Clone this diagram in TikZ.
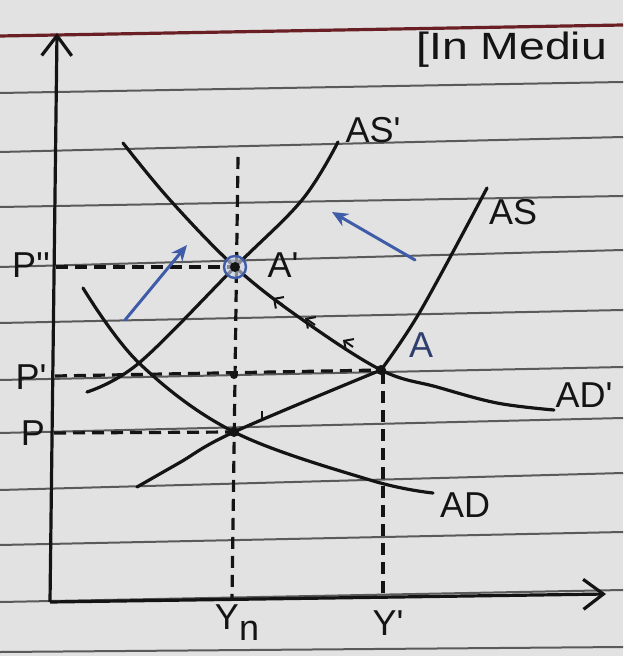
\documentclass[tikz,border=0pt]{standalone}
\usepackage{fontspec}
\setmainfont{Liberation Sans}
\usetikzlibrary{arrows.meta}
\definecolor{paper}{HTML}{E2E2E2}
\definecolor{rulegray}{HTML}{5A5A5A}
\definecolor{margin}{HTML}{6A1F25}
\definecolor{pen}{HTML}{141414}
\definecolor{bluepen}{HTML}{3F5CA8}
\begin{document}
\begin{tikzpicture}[x=0.5pt,y=-0.5pt,
  ruled/.style={rulegray,line width=1pt},
  curve/.style={pen,line width=1.6pt,line cap=round},
  guide/.style={pen,line width=1.6pt,dash pattern=on 6pt off 3.5pt},
  lbl/.style={pen,font=\fontsize{18}{21}\selectfont,inner sep=0pt},
  movearrow/.style={bluepen,line width=1.5pt,line cap=round,-{Stealth[length=8pt,width=7pt]}},
  axis/.style={pen,line width=1.6pt,-{Straight Barb[length=10pt,width=15pt,line width=1.6pt]}},
  tinyarrow/.style={pen,line width=1pt,-{Straight Barb[length=3.5pt,width=7pt,line width=1pt]}},
  dot/.style={circle,fill=pen,inner sep=0pt,minimum size=5pt},
]
\useasboundingbox (0,0) rectangle (623,656);
\clip (0,0) rectangle (623,656);
\fill[paper] (0,0) rectangle (623,656);
% ruled paper
\foreach \a/\b in {93/82,152/137,207/196,267/250,323/310,380/367,433/418,490/473,545/532,602/590,652/647}
  \draw[ruled] (0,\a) -- (623,\b);
\draw[margin,line width=1.6pt] (0,36) -- (623,25);
\node[lbl,anchor=west,font=\fontsize{19}{24}\selectfont] (note) at (416,50) {\scalebox{1.22}[1]{[In Mediu}};
% key points
\coordinate (O) at (50,602);
\coordinate (ytop) at (57,33);
\coordinate (xend) at (606,594);
\coordinate (P) at (234,432);
\coordinate (A) at (381,370);
\coordinate (Ap) at (235,267);
\coordinate (M) at (234,375);
% axes
\draw[axis] (O) -- (ytop);
\draw[axis] (O) -- (xend);
% guides
\draw[guide] (56,267) -- (Ap);
\draw[guide] (55,376) -- (A);
\draw[guide] (54,433) -- (P);
\draw[guide] (238,157) -- (232,600);
\draw[guide] (383,372) -- (383,598);
% curves
\draw[curve] plot[smooth,tension=0.6] coordinates {(83,288) (139,363) (234,432) (370,480) (433,493)}; % AD
\draw[curve] plot[smooth,tension=0.6] coordinates {(123,143) (170,200) (235,267) (300,318) (381,370) (437,387) (497,403) (554,410)}; % AD'
\draw[curve] plot[smooth,tension=0.6] coordinates {(87,392) (139,363) (235,267) (302,200) (338,142)}; % AS'
\draw[curve] plot[smooth,tension=0.6] coordinates {(137,487) (179,463) (234,432) (381,370)}; % AS lower
\draw[curve] plot[smooth,tension=0.6] coordinates {(381,370) (421,310) (487,188)}; % AS upper
% small arrows along AD'
\draw[tinyarrow] (283,305) -- (273,298);
\draw[tinyarrow] (315,325) -- (305,318);
\draw[tinyarrow] (353,347) -- (343,340);
\draw[pen,line width=1pt] (262,411) -- (262,420);
% equilibrium points
\node[dot] (pP) at (P) {};
\node[dot] (pA) at (A) {};
\node[dot,minimum size=4pt] (pM) at (M) {};
\draw[bluepen,line width=1.2pt,fill=bluepen!25,fill opacity=0.6] (Ap) circle (11);
\node[dot] (pAp) at (Ap) {};
% shift arrows
\draw[movearrow] (125,320) -- (187,245);
\draw[movearrow] (415,260) -- (332,212);
% labels
\node[lbl] (lASp) at (373,130) {AS\textquotesingle};
\node[lbl] (lAS) at (513,212) {AS};
\node[lbl] (lAp) at (283,265) {A\textquotesingle};
\node[lbl,text=bluepen!60!pen] (lA) at (421,345) {A};
\node[lbl] (lADp) at (584,395) {AD\textquotesingle};
\node[lbl] (lAD) at (465,505) {AD};
\node[lbl] (lP2) at (31,265) {P\textquotesingle\textquotesingle};
\node[lbl] (lP1) at (31,377) {P\textquotesingle};
\node[lbl] (lP0) at (33,433) {P};
\node[lbl] (lYn) at (237,623) {Y\raisebox{-0.3em}{n}};
\node[lbl] (lY1) at (388,623) {Y\textquotesingle};
\end{tikzpicture}
\end{document}
